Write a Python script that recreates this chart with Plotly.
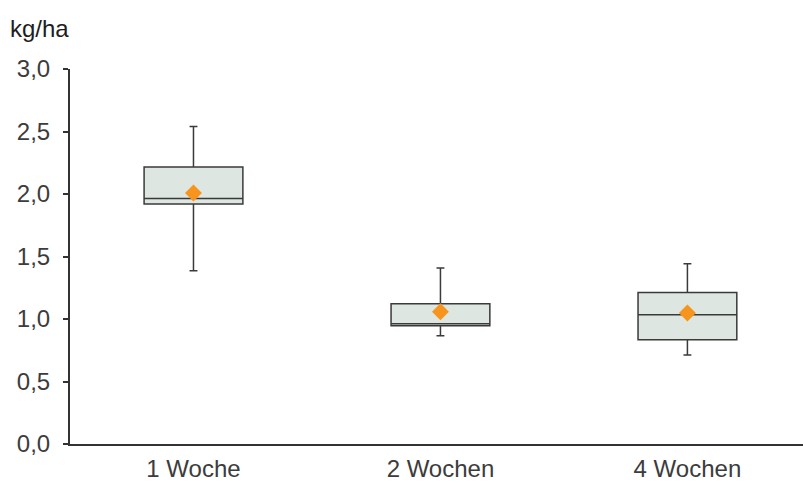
import plotly.graph_objects as go

categories = ["1 Woche", "2 Wochen", "4 Wochen"]
q1 = [1.92, 0.946, 0.834]
median = [1.965, 0.962, 1.034]
q3 = [2.216, 1.122, 1.213]
lower = [1.386, 0.866, 0.712]
upper = [2.54, 1.408, 1.442]
mean = [2.008, 1.058, 1.048]
y_ticks = [0.0, 0.5, 1.0, 1.5, 2.0, 2.5, 3.0]

fig = go.Figure()
fig.add_trace(go.Box(
    x=categories, q1=q1, median=median, q3=q3,
    lowerfence=lower, upperfence=upper,
    boxpoints=False, width=0.4, whiskerwidth=0.08,
    fillcolor="#dde6e0", line=dict(color="#3a3a3a", width=1.5),
    showlegend=False, hoverinfo="skip",
))
fig.add_trace(go.Scatter(
    x=categories, y=mean, mode="markers",
    marker=dict(symbol="diamond", size=13, color="#f7941d"),
    showlegend=False, hoverinfo="skip",
))

fig.update_layout(
    width=803, height=483,
    margin=dict(l=70, r=0, t=69, b=39, autoexpand=False),
    paper_bgcolor="white", plot_bgcolor="white",
    separators=",.",
    font=dict(family="Liberation Sans, Arial, sans-serif", size=24, color="#3c3c3c"),
    xaxis=dict(
        range=[-0.5, 2.468], showgrid=False, zeroline=False,
        showline=True, linecolor="#333333", linewidth=2,
        ticks="", ticklabelstandoff=2,
        tickfont=dict(size=24, color="#3c3c3c"),
    ),
    yaxis=dict(
        range=[0, 3.0], tickvals=y_ticks, tickformat=".1f",
        showgrid=False, zeroline=False,
        showline=True, linecolor="#333333", linewidth=2,
        ticks="outside", ticklen=5, tickwidth=1.5, tickcolor="#333333",
        ticklabelstandoff=8,
        tickfont=dict(size=24, color="#3c3c3c"),
    ),
    annotations=[dict(
        text="kg/ha", xref="paper", yref="paper", x=0, y=1,
        xshift=-62, yshift=41, xanchor="left", yanchor="middle",
        showarrow=False, font=dict(size=24, color="#1e1e1e"),
    )],
)

fig.write_html(
    "out.html",
    config={"displayModeBar": False},
    post_script="document.body.style.margin='0';document.body.style.overflow='hidden';",
)
